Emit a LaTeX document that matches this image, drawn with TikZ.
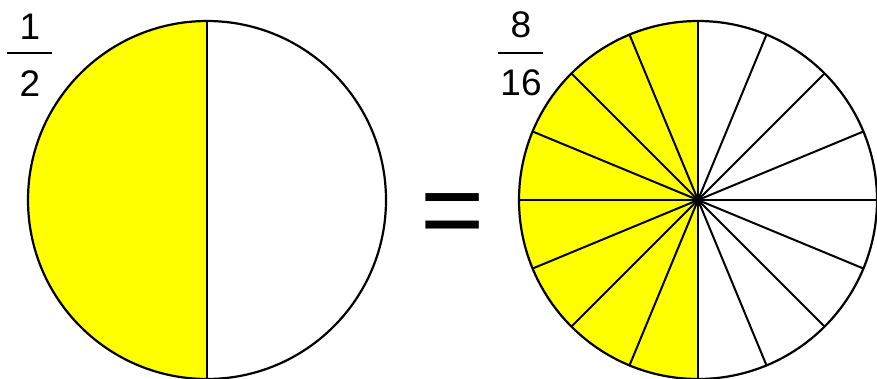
\documentclass[tikz,border=0pt]{standalone}
\usepackage{fontspec}
\setmainfont{Liberation Sans}
\usepackage{tikz}
\usetikzlibrary{positioning,calc}

\definecolor{partfill}{RGB}{255,255,0}
\tikzset{
  numtext/.style={inner sep=0pt, font=\fontsize{37}{40}\selectfont},
  fracbar/.style={line width=2pt},
  rim/.style={line width=2.2pt},
  spoke/.style={line width=2pt}
}

\begin{document}
\begin{tikzpicture}[x=1pt,y=-1pt]
\useasboundingbox (0,0) rectangle (877,378);
% left circle, one half
\coordinate (cl) at (207,200);
\fill[partfill] (cl) ++(0,179) arc[start angle=90, end angle=270, radius=179] -- cycle;
\draw[rim] (cl) circle[radius=179];
\draw[rim] ($(cl)+(0,-179)$) -- ($(cl)+(0,179)$);
% fraction 1/2
\node[numtext] (n1) at (30,27) {1};
\node[numtext] (d1) at (30,84) {2};
\draw[fracbar] (7,53) -- (52,53);
% equals sign
\node[inner sep=0pt, anchor=base, font=\fontsize{110}{120}\selectfont] (eq) at (453,247) {=};
% right circle, sixteen parts
\coordinate (cr) at (698,200);
\fill[partfill] (cr) ++(0,179) arc[start angle=90, end angle=270, radius=179] -- cycle;
\foreach \a in {0,22.5,...,337.5}
  \draw[spoke] (cr) -- ++(\a:179);
\draw[rim] (cr) circle[radius=179];
% fraction 8/16
\node[numtext] (n2) at (521,25) {8};
\node[numtext] (d2) at (521,83) {16};
\draw[fracbar] (498,53) -- (543,53);
\end{tikzpicture}
\end{document}
